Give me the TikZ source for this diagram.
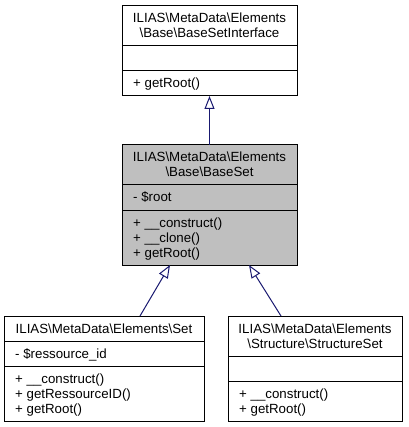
\documentclass[tikz,border=0pt]{standalone}
\usepackage{fontspec}
\setmainfont{Liberation Sans}
\usetikzlibrary{arrows.meta}
\definecolor{edgeblue}{RGB}{25,25,112}
\definecolor{basefill}{RGB}{191,191,191}
\newcommand\dgfont{\fontsize{13.3}{15}\selectfont}
\newcommand\bs{\textbackslash}
\tikzset{
  cls/.style={draw=black, line width=1pt, rectangle, inner sep=0pt, outer sep=0pt, anchor=north west},
  sepline/.style={draw=black, line width=1pt},
  ttl/.style={inner sep=0pt, anchor=base, font=\dgfont},
  mem/.style={inner sep=0pt, anchor=base west, font=\dgfont},
  inh/.style={draw=edgeblue, line width=1pt, -{Triangle[open, length=13pt, width=10pt, line width=1pt]}},
}
\begin{document}
\begin{tikzpicture}[x=1pt,y=-1pt]
\useasboundingbox (0,0) rectangle (408,427);
% interface
\node[cls, minimum width=175pt, minimum height=90pt] (iface) at (122,6) {};
\draw[sepline] (122,46) -- (297,46);
\draw[sepline] (122,71) -- (297,71);
\node[ttl] (ifacet1) at (209.5,23) {ILIAS\bs MetaData\bs Elements};
\node[ttl] (ifacet2) at (209.5,38) {\bs Base\bs BaseSetInterface};
\node[mem] (ifacem1) at (133,88) {+ getRoot()};
% base set
\node[cls, fill=basefill, minimum width=175pt, minimum height=120pt] (base) at (122,145) {};
\draw[sepline] (122,185) -- (297,185);
\draw[sepline] (122,210) -- (297,210);
\node[ttl] (baset1) at (209.5,162) {ILIAS\bs MetaData\bs Elements};
\node[ttl] (baset2) at (209.5,177) {\bs Base\bs BaseSet};
\node[mem] (basea1) at (133,202) {- \$root};
\node[mem] (basem1) at (133,227) {+ \_\_construct()};
\node[mem] (basem2) at (133,242) {+ \_\_clone()};
\node[mem] (basem3) at (133,257) {+ getRoot()};
% set
\node[cls, minimum width=200pt, minimum height=105pt] (set) at (4,316) {};
\draw[sepline] (4,341) -- (204,341);
\draw[sepline] (4,366) -- (204,366);
\node[ttl] (sett1) at (104,333) {ILIAS\bs MetaData\bs Elements\bs Set};
\node[mem] (seta1) at (15,358) {- \$ressource\_id};
\node[mem] (setm1) at (15,383) {+ \_\_construct()};
\node[mem] (setm2) at (15,398) {+ getRessourceID()};
\node[mem] (setm3) at (15,413) {+ getRoot()};
% structure set
\node[cls, minimum width=174pt, minimum height=105pt] (sset) at (228,316) {};
\draw[sepline] (228,356) -- (402,356);
\draw[sepline] (228,381) -- (402,381);
\node[ttl] (ssett1) at (315,333) {ILIAS\bs MetaData\bs Elements};
\node[ttl] (ssett2) at (315,348) {\bs Structure\bs StructureSet};
\node[mem] (ssetm1) at (239,398) {+ \_\_construct()};
\node[mem] (ssetm2) at (239,413) {+ getRoot()};
% inheritance
\draw[inh] (base.north) -- (iface.south);
\draw[inh] ([xshift=136pt]set.north west) -- ([xshift=48pt]base.south west);
\draw[inh] ([xshift=53pt]sset.north west) -- ([xshift=127pt]base.south west);
\end{tikzpicture}
\end{document}
